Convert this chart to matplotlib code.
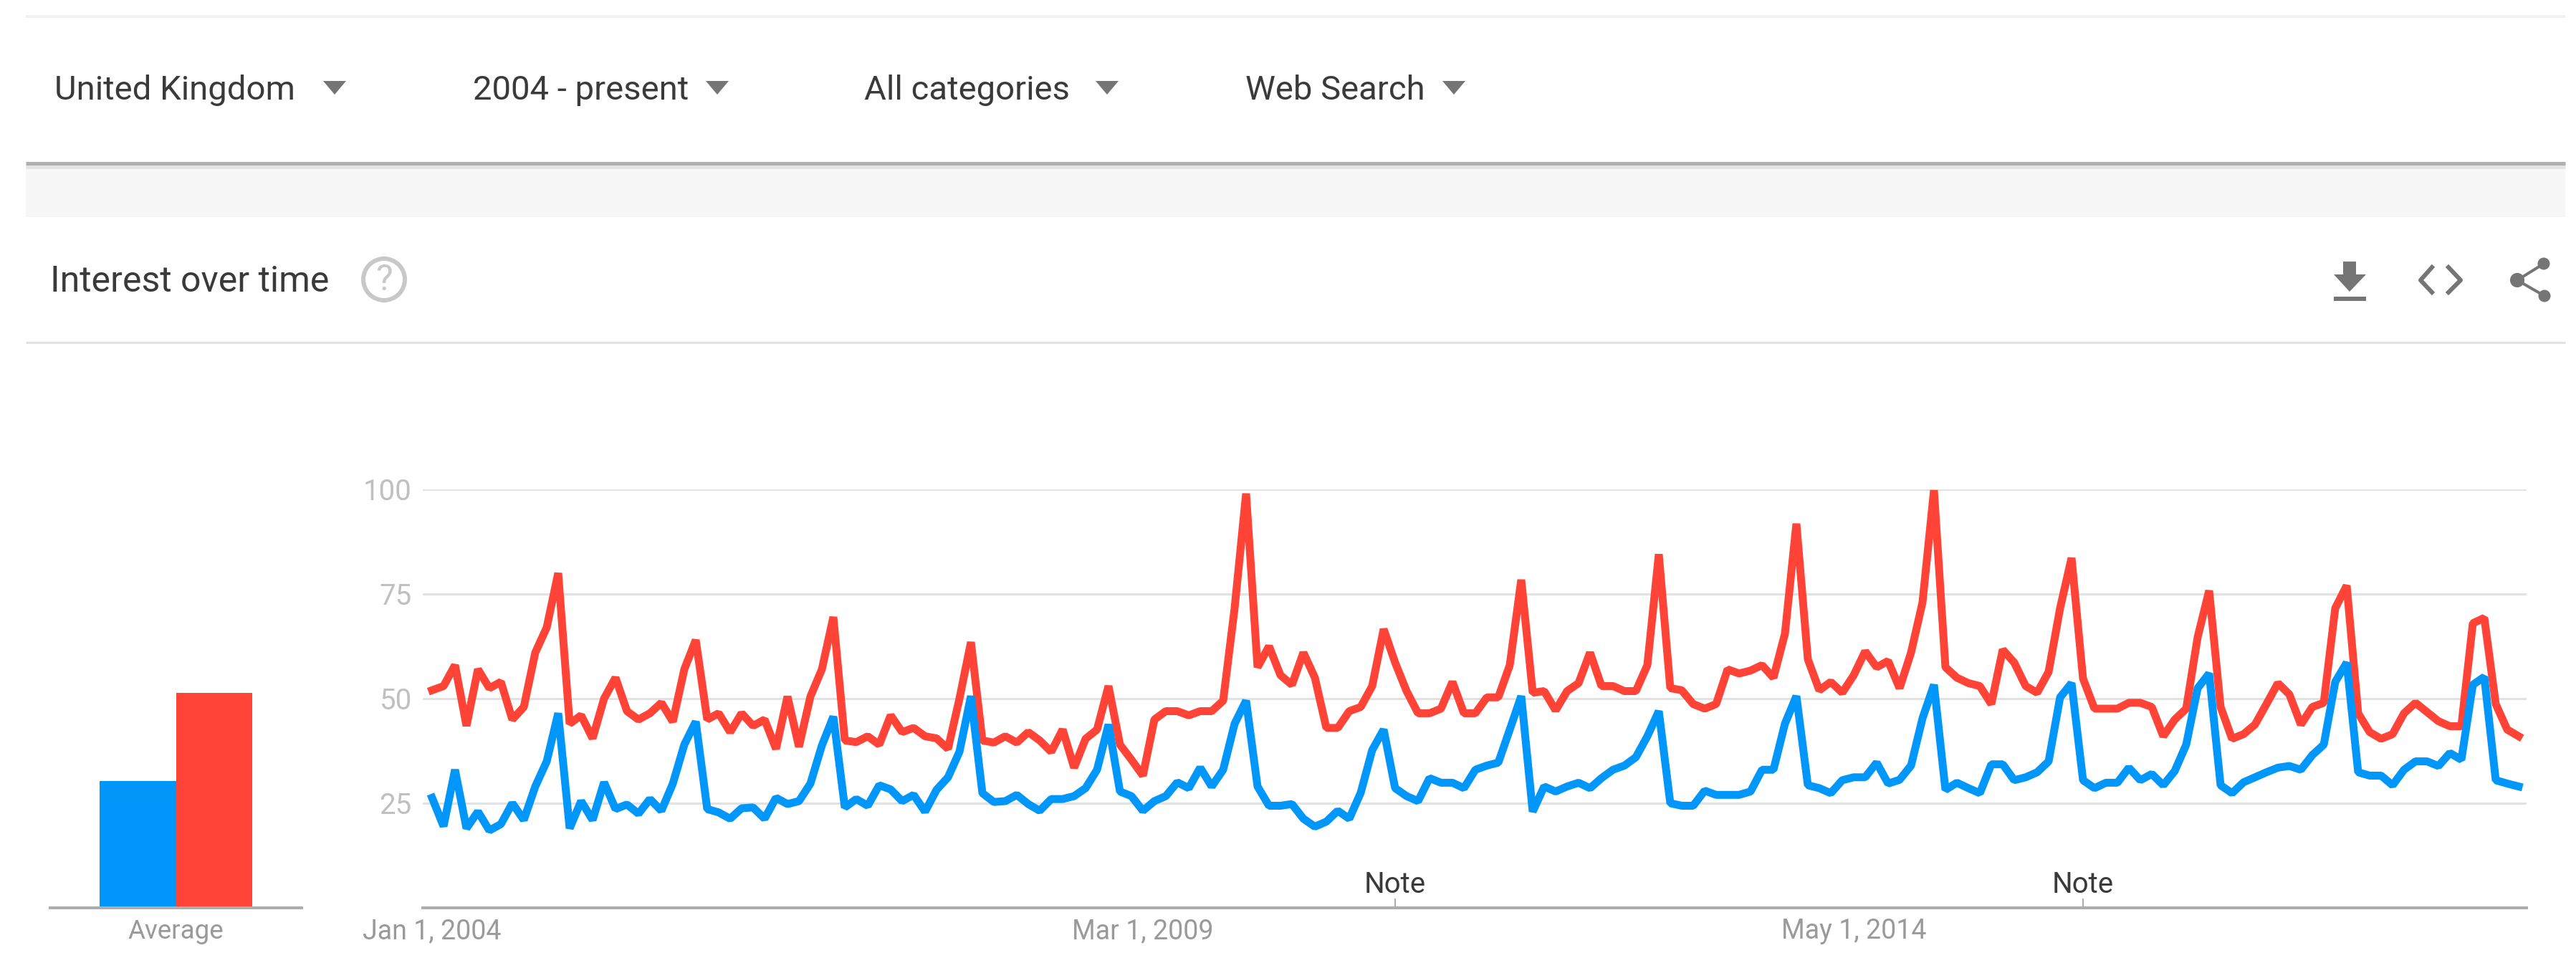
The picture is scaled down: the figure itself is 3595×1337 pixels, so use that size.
import matplotlib
matplotlib.use("Agg")
import matplotlib.pyplot as plt
from matplotlib.patches import Polygon, Rectangle, Circle

plt.rcParams['font.family'] = ['Roboto', 'DejaVu Sans']

W, H = 3595, 1337

red_values = [
    52,53,58,43.5,57,52.5,54,45,48,61,67,80,
    44,46,40.5,50,55,47,45,46.5,49,44.5,57,64,
    45,46.5,42,46.5,43.5,45,38,50.5,38.5,50.5,57,69.5,
    40,39.6,41,39,46,42,43,41,40.5,38,50,63.5,
    40,39.5,41,39.5,42,40,37.3,42.6,33.5,40.4,42.6,53,
    39,35.4,31.6,45,47,47,46,47,47,49.5,71.6,99,
    57.5,62.5,55.6,53.3,61,55,43,43,47,48,53,66.6,
    58.6,51.8,46.5,46.5,47.6,54,46.5,46.5,50.3,50.3,58,78.4,
    51.4,51.8,47.2,51.8,53.7,61,53,53,51.8,51.8,58,84.5,
    52.5,52,48.7,47.6,48.7,57,56,56.7,58,55,65.5,91.8,
    59.4,52,54,51.4,55.6,61.3,57.5,59,52.5,61,73,99.8,
    57.5,55,53.7,53,48.7,61.7,58.6,53,51.4,56.4,71.6,83.6,
    54.8,47.6,47.6,47.6,49,49,48,41,45,47.6,64.7,75.8,
    48,40.4,41.5,43.8,48.7,53.7,51,43.8,48,49,71.6,77,
    46.5,42,40.4,41.5,46.5,49,46.8,44.6,43.4,43.4,68,69.3,
    48.7,42.6,41,
]
blue_values = [
    26.3,19.5,33,19,23,18.5,20,25,21,29,35,46.5,
    19,25.5,21,30,23.6,24.7,22.5,26,23.2,29.7,39,44.5,
    23.6,22.8,21.3,23.8,24,21.3,26.3,24.8,25.5,29.7,38.8,45.7,
    24,26,24.4,29.3,28.3,25.5,27,23,28.2,31.2,37.3,50.6,
    27.4,25.3,25.5,27,24.8,23.2,26,26,26.7,28.6,33,43.8,
    27.8,26.7,23.2,25.5,26.7,30,28.6,33.5,29,33,44,49.5,
    29,24.4,24.4,24.8,21.3,19.4,20.6,23.2,21.3,27.5,37.7,42.6,
    28.6,26.7,25.5,31,29.9,29.9,28.6,33,34,34.7,42.6,50.6,
    23,29,27.8,29,29.9,28.6,31,33,34,36,41,47,
    25,24.4,24.4,28,27,27,27,27.8,33,33,44,50.6,
    29.3,28.6,27.4,30.5,31.2,31.2,34.7,29.7,30.6,34,45.3,53.3,
    28.2,29.9,28.6,27.4,34.3,34.3,30.5,31.2,32.4,35,50.3,53.7,
    30.5,28.6,29.9,29.9,33.5,30.5,32,29.3,32.7,39,52.5,56,
    29.3,27.4,30,31.2,32.4,33.5,33.9,33,36.5,39,54,58.6,
    32.4,31.6,31.6,29.3,33,35,35,33.9,37,35.4,53.3,55.2,
    30.5,29.7,29,
]
months = list(range(len(red_values)))
average_values = [30.3, 51.4]
y_ticks = [25, 50, 75, 100]
date_ticks = [0, 62, 124]
date_labels = ["Jan 1, 2004", "Mar 1, 2009", "May 1, 2014"]
note_months = [84, 144]
filters = ["United Kingdom", "2004 - present", "All categories", "Web Search"]

BLUE, RED = "#0096fa", "#ff4336"
GRID, BASE = "#e2e2e2", "#adadad"
DARK, ICON = "#3a3a3a", "#757575"

fig = plt.figure(figsize=(W/100, H/100), dpi=100, facecolor="white")

def rect(l, t, r, b):
    return [l/W, 1-b/H, (r-l)/W, (b-t)/H]

# page furniture, in pixel coordinates
ui = fig.add_axes([0, 0, 1, 1])
ui.set_xlim(0, W); ui.set_ylim(H, 0); ui.axis("off")
px = 0.72
ui.add_patch(Rectangle((36, 228), 3544, 75, fc="#f7f7f7", ec="none"))
ui.plot([36, 3580], [23, 23], color="#f2f2f2", lw=4*px, solid_capstyle="butt")
ui.plot([36, 3580], [233, 233], color="#e4e4e4", lw=5*px, solid_capstyle="butt")
ui.plot([36, 3580], [228, 228], color="#b0b0b0", lw=5*px, solid_capstyle="butt")
ui.plot([36, 3580], [478, 478], color="#e2e2e2", lw=3*px, solid_capstyle="butt")

for label, tx, ax0 in zip(filters, [76, 660, 1206, 1738], [451, 985, 1529, 2013]):
    ui.text(tx, 126, label, fontsize=34, color=DARK, va="center", ha="left")
    ui.add_patch(Polygon([(ax0, 113), (ax0+32, 113), (ax0+16, 132)], fc=ICON, ec="none"))

ui.text(70, 393, "Interest over time", fontsize=36, color=DARK, va="center", ha="left")
ui.add_patch(Circle((536, 390), 29, fc="none", ec="#c8c8c8", lw=6*px))
ui.text(536, 391, "?", fontsize=36, color="#c8c8c8", va="center", ha="center")

# download icon
ui.add_patch(Polygon([(3270, 365), (3288, 365), (3288, 383), (3302, 383), (3279, 407),
                      (3257, 383), (3270, 383)], fc=ICON, ec="none"))
ui.add_patch(Rectangle((3257, 414), 45, 6, fc=ICON, ec="none"))
# code icon
ui.plot([3394, 3378, 3394], [373, 391, 408], color=ICON, lw=6*px)
ui.plot([3417, 3434, 3417], [373, 391, 408], color=ICON, lw=6*px)
# share icon
ui.plot([3550, 3513, 3551], [368, 391, 413], color=ICON, lw=4*px)
ui.scatter([3550, 3513, 3551], [368, 391, 413], s=[150, 210, 150], color=ICON, linewidths=0)

# average bars
bar_ax = fig.add_axes(rect(70, 683, 421, 1267))
bar_ax.patch.set_alpha(0)
bar_ax.bar([0, 1], average_values, width=1, color=[BLUE, RED], zorder=2)
bar_ax.set_xlim(-1.148, 2.148); bar_ax.set_ylim(0, 100)
for s in ("top", "left", "right"):
    bar_ax.spines[s].set_visible(False)
bar_ax.spines["bottom"].set_color(BASE); bar_ax.spines["bottom"].set_linewidth(4*px)
bar_ax.spines["bottom"].set_zorder(3)
bar_ax.set_yticks([])
bar_ax.set_xticks([0.5]); bar_ax.set_xticklabels(["Average"], fontsize=26.5, color="#9a9a9a")
bar_ax.tick_params(axis="x", length=0, pad=11)

# line chart
ax = fig.add_axes(rect(590, 683, 3526, 1267))
ax.patch.set_alpha(0)
ax.set_xlim(-13/16, 2923/16); ax.set_ylim(0, 100)
ax.plot(months, red_values, color=RED, lw=11*px, solid_joinstyle="bevel", zorder=3)
ax.plot(months, blue_values, color=BLUE, lw=11*px, solid_joinstyle="bevel", zorder=4)
ax.set_yticks(y_ticks); ax.set_yticklabels([str(v) for v in y_ticks], fontsize=29, color="#c0c0c0")
ax.set_xticks(date_ticks); ax.set_xticklabels(date_labels, fontsize=27, color="#9a9a9a")
ax.tick_params(axis="x", length=0, pad=10)
ax.tick_params(axis="y", length=0, pad=11)
ax.grid(axis="y", color=GRID, lw=3*px, zorder=1)
ax.set_axisbelow(True)
for s in ("top", "left", "right"):
    ax.spines[s].set_visible(False)
ax.spines["bottom"].set_color(BASE); ax.spines["bottom"].set_linewidth(4*px)
for m in note_months:
    ax.plot([m, m], [0, 2], color=BASE, lw=2*px, zorder=2)
    ax.text(m, 2.2, "Note", fontsize=29, color=DARK, ha="center", va="bottom")

fig.savefig("out.png", dpi=100, facecolor="white")
